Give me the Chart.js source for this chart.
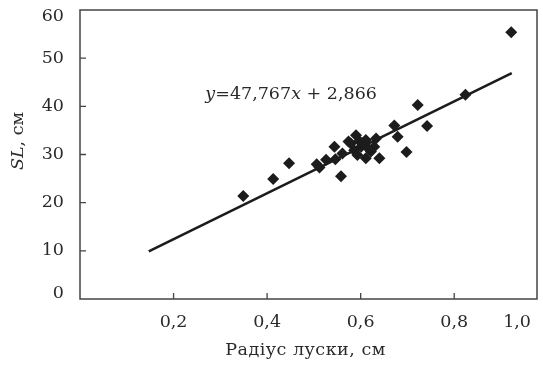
<!DOCTYPE html>
<html>
<head>
<meta charset="utf-8">
<script src="https://cdn.jsdelivr.net/npm/chart.js@4.4.0/dist/chart.umd.min.js"></script>
<style>
  html, body { margin: 0; padding: 0; background: #fff; }
  #wrap { width: 543px; height: 366px; }
</style>
</head>
<body>
<div id="wrap"><canvas id="chart" width="543" height="366"></canvas></div>
<script>
// scale radius (cm) vs SL (cm)
const radiusX = [0.349, 0.413, 0.447, 0.506, 0.512, 0.526, 0.546, 0.544, 0.558, 0.561,
                 0.574, 0.579, 0.590, 0.586, 0.593, 0.601, 0.611, 0.611, 0.622, 0.629,
                 0.633, 0.640, 0.605, 0.597, 0.617, 0.672, 0.679, 0.698, 0.722, 0.742,
                 0.824, 0.922];
const lengthY = [21.4, 24.9, 28.2, 28.0, 27.3, 28.9, 29.0, 31.6, 25.5, 30.2,
                 32.7, 32.3, 34.0, 30.9, 29.9, 31.6, 33.0, 29.2, 30.6, 31.6,
                 33.3, 29.2, 32.4, 32.8, 31.2, 36.0, 33.7, 30.5, 40.3, 35.9,
                 42.4, 55.4];
// regression line ends
const fitX = [0.147, 0.923];
const fitY = [9.9, 46.9];
const xTickValues = [0.2, 0.4, 0.6, 0.8];
const xLastLabel = '1,0';
const xMax = 0.977;
const yTickValues = [0, 10, 20, 30, 40, 50, 60];
const eqParts = [['y', true], ['=', false], ['47,767', false], ['x', true], [' + ', false], ['2,866', false]];
const eqAt = { x: 0.268, y: 41.5 };

const FONT = '"DejaVu Serif", "Liberation Serif", serif';
const FS = 17.5;
const INK = '#1c1c1c';
const TXT = '#2a2a2a';
const comma = v => v.toFixed(1).replace('.', ',');

const decor = {
    id: 'decor',
    beforeDraw(chart) {
        // nudge the end labels inside the frame, like the original
        const yi = chart.scales.y.getLabelItems();
        if (!yi._nudged) {
            yi.forEach(it => {
                if (it.label === '0') it.options.translation[1] -= 6;
                if (it.label === '60') it.options.translation[1] += 6;
            });
            yi._nudged = true;
        }
        const xi = chart.scales.x.getLabelItems();
        if (!xi._nudged) {
            xi.forEach(it => { if (it.label === xLastLabel) it.options.translation[0] -= 6; });
            xi._nudged = true;
        }
    },
    afterDraw(chart) {
        const { ctx, chartArea: a, scales: { x, y } } = chart;
        ctx.save();
        // frame
        ctx.strokeStyle = '#444'; ctx.lineWidth = 1.5;
        ctx.strokeRect(a.left, a.top, a.right - a.left, a.bottom - a.top);
        // inward ticks
        ctx.lineWidth = 1.3;
        ctx.beginPath();
        yTickValues.slice(1, -1).forEach(v => {
            const p = y.getPixelForValue(v);
            ctx.moveTo(a.left, p); ctx.lineTo(a.left + 6, p);
        });
        xTickValues.forEach(v => {
            const p = x.getPixelForValue(v);
            ctx.moveTo(p, a.bottom); ctx.lineTo(p, a.bottom - 6);
        });
        ctx.stroke();

        ctx.fillStyle = TXT;
        ctx.textBaseline = 'alphabetic';
        // equation
        let ex = x.getPixelForValue(eqAt.x), ey = y.getPixelForValue(eqAt.y);
        eqParts.forEach(([t, it]) => {
            ctx.font = (it ? 'italic ' : '') + FS + 'px ' + FONT;
            ctx.fillText(t, ex, ey);
            ex += ctx.measureText(t).width;
        });
        // x title
        ctx.font = FS + 'px ' + FONT;
        ctx.letterSpacing = '0.5px';
        ctx.textAlign = 'center';
        ctx.fillText('Радіус луски, см', (a.left + a.right) / 2 - 3, 355);
        ctx.letterSpacing = '0px';
        // y title, rotated
        ctx.translate(23, 141);
        ctx.rotate(-Math.PI / 2);
        ctx.textAlign = 'left';
        ctx.font = 'italic ' + FS + 'px ' + FONT;
        const w1 = ctx.measureText('SL').width;
        ctx.font = FS + 'px ' + FONT;
        const w2 = ctx.measureText(', см').width;
        const tx = -(w1 + w2) / 2;
        ctx.font = 'italic ' + FS + 'px ' + FONT;
        ctx.fillText('SL', tx, 0);
        ctx.font = FS + 'px ' + FONT;
        ctx.fillText(', см', tx + w1, 0);
        ctx.restore();
    }
};

new Chart(document.getElementById('chart'), {
    type: 'scatter',
    data: {
        datasets: [
            {
                label: 'SL',
                data: radiusX.map((v, i) => ({ x: v, y: lengthY[i] })),
                pointStyle: 'rectRot', pointRadius: 6, pointHoverRadius: 6,
                backgroundColor: INK, borderColor: INK, borderWidth: 0,
                order: 0
            },
            {
                label: 'fit',
                data: fitX.map((v, i) => ({ x: v, y: fitY[i] })),
                showLine: true, pointRadius: 0, borderColor: INK, borderWidth: 2.6,
                order: 1
            }
        ]
    },
    options: {
        responsive: false,
        animation: false,
        layout: { padding: { top: 10, right: 5, left: 0, bottom: 0 } },
        plugins: { legend: { display: false }, tooltip: { enabled: false } },
        scales: {
            x: {
                type: 'linear', min: 0, max: xMax,
                afterBuildTicks: s => { s.ticks = [0, ...xTickValues, xMax].map(v => ({ value: v })); },
                afterFit: s => { s.height = 67; s.paddingLeft = 0; s.paddingRight = 0; },
                grid: { display: false, drawTicks: false },
                border: { display: false },
                ticks: {
                    autoSkip: false, maxRotation: 0, align: 'inner', padding: 13,
                    color: TXT, font: { family: FONT, size: FS },
                    callback: v => v === 0 ? '' : (v === xMax ? xLastLabel : comma(v))
                }
            },
            y: {
                type: 'linear', min: 0, max: 60,
                afterBuildTicks: s => { s.ticks = yTickValues.map(v => ({ value: v })); },
                afterFit: s => { s.width = 80; s.paddingTop = 0; s.paddingBottom = 0; },
                grid: { display: false, drawTicks: false },
                border: { display: false },
                ticks: { padding: 16, color: TXT, font: { family: FONT, size: FS } }
            }
        }
    },
    plugins: [decor]
});
</script>
</body>
</html>
